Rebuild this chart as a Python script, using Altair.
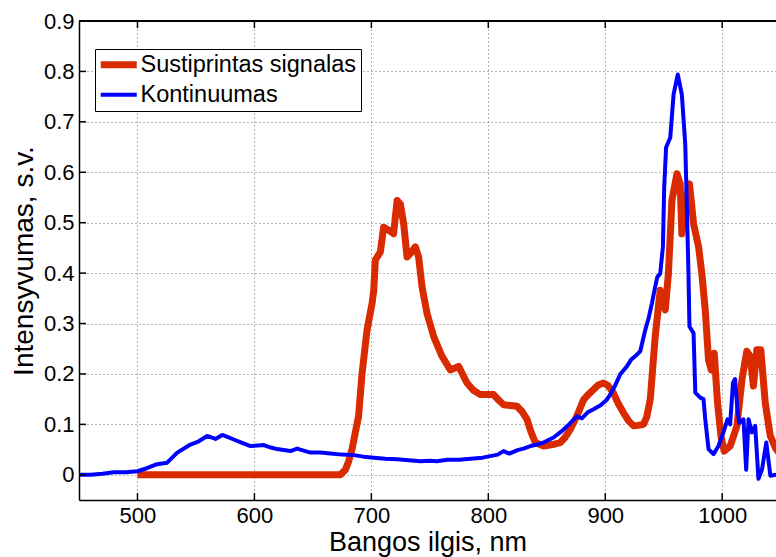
import altair as alt
import pandas as pd

# ---------------- data ----------------
SERIES = ["Sustiprintas signalas", "Kontinuumas"]

RED_X = [500, 550, 600, 650, 673.5, 677.8, 680.6, 683.5, 686.3, 689, 692, 696.3, 700.6, 702,
         703.4, 707.7, 710.5, 714.8, 719, 722, 724.8, 727.6, 730.5, 733.4, 737.6, 740.4, 743.3,
         747.6, 753.3, 760.4, 767.5, 774.6, 781.8, 787, 793.2, 804.5, 808, 813.1, 824.5, 829,
         833.1, 836.5, 840.2, 847.3, 855, 861.5, 866, 870.1, 876, 881.5, 885, 890, 894, 898.5,
         902, 907, 911, 915.6, 920, 924.2, 928, 932.7, 935.5, 938.5, 942.7, 947, 951.3, 954,
         957, 961.3, 964.1, 965.5, 968.4, 972, 975.5, 979.8, 982.6, 985.5, 988.3, 990.6, 993.2,
         996, 998.9, 1001.7, 1006.8, 1012.6, 1016.9, 1021, 1023.9, 1026.7, 1029.6, 1033, 1036.8,
         1041.1, 1046, 1050]
RED_Y = [0, 0, 0, 0, 0, 0.010, 0.027, 0.051, 0.084, 0.115, 0.200, 0.287, 0.340, 0.365,
         0.426, 0.442, 0.491, 0.485, 0.478, 0.544, 0.537, 0.498, 0.432, 0.439, 0.452, 0.432, 0.373,
         0.320, 0.274, 0.235, 0.208, 0.215, 0.182, 0.168, 0.159, 0.159, 0.150, 0.139, 0.136, 0.125,
         0.110, 0.085, 0.064, 0.057, 0.060, 0.064, 0.075, 0.090, 0.118, 0.149, 0.158, 0.169, 0.178, 0.182,
         0.178, 0.162, 0.142, 0.123, 0.107, 0.097, 0.098, 0.100, 0.115, 0.150, 0.274, 0.366, 0.327, 0.399,
         0.544, 0.597, 0.577, 0.478, 0.531, 0.577, 0.498, 0.452, 0.399, 0.327, 0.228, 0.208, 0.241,
         0.143, 0.077, 0.047, 0.057, 0.097, 0.189, 0.245, 0.235, 0.176, 0.248, 0.248, 0.143,
         0.077, 0.051, 0.040]

BLUE_X = [450, 460, 470, 480, 490, 500, 508, 516.8, 525.4, 534, 545.3, 552, 559.6, 566.7, 572.4,
          578, 582.3, 590, 596.6, 603, 608, 614, 619.4, 625, 630.8, 636.5, 642, 647.9, 656.4, 665,
          675, 684.9, 693.4, 702, 712, 722, 732, 742, 750, 756, 765, 775, 785, 795, 801.7, 808,
          813, 818, 825, 830, 836, 842, 848, 855.8, 862, 869, 875.8, 880, 885, 890, 896, 901.4,
          905, 908, 913, 918.5, 922, 926, 929.9, 934.2, 937, 939.9, 942.7, 944.5, 947, 949.3,
          950.4, 952, 955.6, 958.4, 962, 965.5, 968.4, 969.8, 971.2, 972, 975.5, 977, 981.2, 984,
          985.5, 988.3, 992.6, 996.8, 1001, 1004.5, 1006.8, 1009.2, 1011, 1013, 1014.5, 1018.2,
          1020.5, 1022.5, 1025.4, 1028.2, 1031, 1034, 1037.7, 1041.2, 1046, 1050]
BLUE_Y = [0.000, 0.000, 0.002, 0.005, 0.005, 0.007, 0.013, 0.021, 0.024, 0.044, 0.060, 0.066, 0.077,
          0.071, 0.079, 0.074, 0.070, 0.063, 0.057, 0.058, 0.059, 0.054, 0.051, 0.049, 0.047, 0.052,
          0.048, 0.044, 0.044, 0.042, 0.040, 0.039, 0.036, 0.034, 0.032, 0.031, 0.029, 0.027, 0.028,
          0.027, 0.030, 0.030, 0.032, 0.034, 0.037, 0.040, 0.047, 0.042, 0.049, 0.052, 0.057, 0.060,
          0.065, 0.074, 0.085, 0.100, 0.116, 0.112, 0.124, 0.130, 0.138, 0.149, 0.162, 0.175, 0.200,
          0.215, 0.228, 0.236, 0.245, 0.287, 0.310, 0.340, 0.373, 0.392, 0.399, 0.452, 0.570, 0.649,
          0.669, 0.754, 0.794, 0.754, 0.656, 0.531, 0.393, 0.294, 0.281, 0.163, 0.153, 0.150, 0.110,
          0.051, 0.041, 0.057, 0.084, 0.110, 0.100, 0.182, 0.190, 0.130, 0.103, 0.110, 0.010, 0.110,
          0.084, 0.097, -0.008, 0.010, 0.064, -0.002, 0.000, 0.000]

XTICKS = [500, 600, 700, 800, 900, 1000]
YTICKS = [0, 0.1, 0.2, 0.3, 0.4, 0.5, 0.6, 0.7, 0.8, 0.9]

# ---------------- styling ----------------
FONT = "Liberation Sans"
COLORS = ["#d92a00", "#0000ff"]
WIDTHS = [7, 4]
W, H = 697, 479

red_df = pd.DataFrame({"x": RED_X, "y": RED_Y, "series": SERIES[0]})
blue_df = pd.DataFrame({"x": BLUE_X, "y": BLUE_Y, "series": SERIES[1]})
xt_df = pd.DataFrame({"x": XTICKS})
yt_df = pd.DataFrame({"y": YTICKS})

x_scale = alt.Scale(domain=[450, 1046], nice=False, zero=False)
y_scale = alt.Scale(domain=[-0.05, 0.9], nice=False, zero=False)

GRID_COLOR = "#6f6f6f"

x_axis = alt.Axis(title="Bangos ilgis, nm", values=XTICKS, format="d", grid=True,
                  gridDash=[1, 3], gridColor=GRID_COLOR, gridWidth=1, ticks=False, tickSize=0,
                  domain=True, domainColor="black", domainWidth=1.5, labelFont=FONT,
                  labelFontSize=22, labelColor="black", labelPadding=5, labelOverlap=False,
                  labelFlush=False, titleFont=FONT, titleFontSize=27, titleFontWeight="normal",
                  titleColor="black", titlePadding=3)
y_axis = alt.Axis(title="Intensyvumas, s.v.", values=YTICKS, format=".1~f", grid=True,
                  gridDash=[1, 3], gridColor=GRID_COLOR, gridWidth=1, ticks=False, tickSize=0,
                  domain=True, domainColor="black", domainWidth=1.5, labelFont=FONT,
                  labelFontSize=22, labelColor="black", labelPadding=5, labelOverlap=False,
                  labelFlush=False, titleFont=FONT, titleFontSize=28, titleFontWeight="normal",
                  titleColor="black", titlePadding=5)

legend = alt.Legend(title=None, orient="none", legendX=16, legendY=28,
                    symbolType="M-2.4,0H2.4", symbolSize=225, symbolOffset=8,
                    labelFont=FONT, labelFontSize=23.5, labelColor="black",
                    labelLimit=400, labelOffset=10, strokeColor="black", fillColor="white",
                    padding=4, rowPadding=3, symbolOpacity=1)

color = alt.Color("series:N", scale=alt.Scale(domain=SERIES, range=COLORS), legend=legend)
swidth = alt.StrokeWidth("series:N", scale=alt.Scale(domain=SERIES, range=WIDTHS), legend=legend)

X_ENC = alt.X("x:Q", scale=x_scale, axis=x_axis)
Y_ENC = alt.Y("y:Q", scale=y_scale, axis=y_axis)


def line_layer(df):
    return alt.Chart(df).mark_line(clip=True, strokeJoin="round").encode(
        x=X_ENC, y=Y_ENC, color=color, strokeWidth=swidth)


red = line_layer(red_df)
blue = line_layer(blue_df)

tick_bottom = alt.Chart(xt_df).mark_rule(color="black", strokeWidth=1.5).encode(
    x=X_ENC, y=alt.value(H), y2=alt.value(H - 7))
tick_top = alt.Chart(xt_df).mark_rule(color="black", strokeWidth=1.5).encode(
    x=X_ENC, y=alt.value(0), y2=alt.value(7))
tick_left = alt.Chart(yt_df).mark_rule(color="black", strokeWidth=1.5).encode(
    y=Y_ENC, x=alt.value(0), x2=alt.value(7))
top_frame = alt.Chart(pd.DataFrame({"a": [0]})).mark_rule(color="black", strokeWidth=2).encode(
    x=alt.value(0), x2=alt.value(W), y=alt.value(0))

chart = alt.layer(red, blue, tick_bottom, tick_top, tick_left, top_frame).properties(
    width=W, height=H,
    autosize=alt.AutoSizeParams(type="none"),
    padding={"left": 79, "top": 21, "right": 0, "bottom": 57},
    background="white",
).configure_view(stroke=None)

chart.save("out.html", embed_options={"renderer": "svg", "actions": False})
